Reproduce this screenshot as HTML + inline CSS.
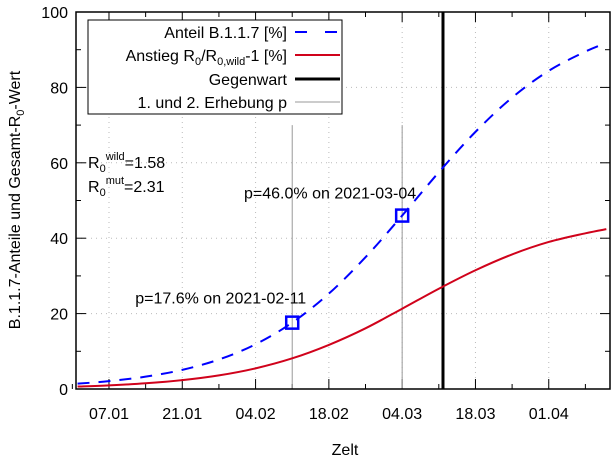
<!DOCTYPE html>
<html><head><meta charset="utf-8"><style>
body{margin:0;background:#fff}
svg{display:block;font-family:"Liberation Sans",sans-serif}
</style></head><body>
<svg id="c" width="615" height="459"></svg>
<script>
const days=[0,6,13,20,27,34,41,48,55,62,69,76,83,90,97,101];
const anteil=[1.41,2.08,3.27,5.08,7.82,11.86,17.6,25.3,34.95,46.0,57.5,68.2,77.3,84.4,89.5,91.8];
const anstieg=[0.65,0.96,1.51,2.35,3.61,5.48,8.13,11.7,16.1,21.3,26.6,31.5,35.7,39.0,41.3,42.4];
const xTickDays=[6,20,34,48,62,76,90];
const xTickLabels=["07.01","21.01","04.02","18.02","04.03","18.03","01.04"];
const yTicks=[0,20,40,60,80,100];
const surveyDays=[41,62];
const surveyValues=[17.6,46.0];
const surveyLabels=["p=17.6% on 2021-02-11","p=46.0% on 2021-03-04"];
const nowDay=69.8;

const NS="http://www.w3.org/2000/svg";
const svg=document.getElementById('c');
const L=76,R=610,T=12,B=389;
const labelDy=[-19,-17];
const x=d=>L+(d+0.3)/102*(R-L);
const y=v=>B-v/100*(B-T);
function mk(tag,attrs,parent){const e=document.createElementNS(NS,tag);for(const k in attrs)e.setAttribute(k,attrs[k]);(parent||svg).appendChild(e);return e;}
xTickDays.forEach(d=>{const g=mk('line',{x1:x(d),x2:x(d),y1:T,y2:B,stroke:'#bbb','stroke-dasharray':'1,4','stroke-width':1});

});
yTicks.forEach(v=>{const g=mk('line',{x1:L,x2:R,y1:y(v),y2:y(v),stroke:'#bbb','stroke-dasharray':'1,4','stroke-width':1});

});
xTickDays.forEach((d,i)=>{
 mk('line',{x1:x(d),x2:x(d),y1:B,y2:B-10,stroke:'#000'});mk('line',{x1:x(d),x2:x(d),y1:T,y2:T+10,stroke:'#000'});
 const m=d+7;if(x(m)<R){mk('line',{x1:x(m),x2:x(m),y1:B,y2:B-5,stroke:'#000'});mk('line',{x1:x(m),x2:x(m),y1:T,y2:T+5,stroke:'#000'});}
 const t=mk('text',{x:x(d),y:419,'text-anchor':'middle','font-size':16});t.textContent=xTickLabels[i];
 
 
});
mk('line',{x1:x(-1),x2:x(-1),y1:B,y2:B-5,stroke:'#000'});
yTicks.forEach(v=>{
 mk('line',{x1:L,x2:L+10,y1:y(v),y2:y(v),stroke:'#000'});mk('line',{x1:R,x2:R-10,y1:y(v),y2:y(v),stroke:'#000'});
 if(v<100){mk('line',{x1:L,x2:L+5,y1:y(v+10),y2:y(v+10),stroke:'#000'});mk('line',{x1:R,x2:R-5,y1:y(v+10),y2:y(v+10),stroke:'#000'});}
 const t=mk('text',{x:L-8,y:y(v)+6,'text-anchor':'end','font-size':16});t.textContent=v;
 
 
});
surveyDays.forEach(d=>{const l=mk('line',{x1:x(d),x2:x(d),y1:y(70),y2:B,stroke:'#999','stroke-width':1});

});
const nl=mk('line',{x1:x(nowDay),x2:x(nowDay),y1:T,y2:B,stroke:'#000','stroke-width':3});


function path(vals){const p=days.map((d,i)=>[x(d),y(vals[i])]);let s=`M${p[0][0]},${p[0][1]}`;
 for(let i=0;i<p.length-1;i++){const p0=p[Math.max(0,i-1)],p1=p[i],p2=p[i+1],p3=p[Math.min(p.length-1,i+2)];
 s+=` C${p1[0]+(p2[0]-p0[0])/6},${p1[1]+(p2[1]-p0[1])/6} ${p2[0]-(p3[0]-p1[0])/6},${p2[1]-(p3[1]-p1[1])/6} ${p2[0]},${p2[1]}`;}return s;}
const rp=mk('path',{d:path(anstieg),fill:'none',stroke:'#d0021b','stroke-width':2});


const bp=mk('path',{d:path(anteil),fill:'none',stroke:'#0000ff','stroke-width':2,'stroke-dasharray':'12,9'});


surveyDays.forEach((d,i)=>{
 const r=mk('rect',{x:x(d)-6,y:y(surveyValues[i])-6,width:12,height:12,fill:'none',stroke:'#0000ff','stroke-width':2.5});
 
 
 const t=mk('text',{x:x(d)+14,y:y(surveyValues[i])+labelDy[i],'text-anchor':'end','font-size':16});t.textContent=surveyLabels[i];
 
 
});
const fr=mk('rect',{x:L,y:T,width:R-L,height:B-T,fill:'none',stroke:'#000','stroke-width':1.5});


</script>
<svg width="615" height="459" style="position:absolute;left:0;top:0;font-family:'Liberation Sans',sans-serif">
 <g>
  <rect x="88" y="20" width="254" height="94" fill="#fff" stroke="#000" stroke-width="1"/>
  <text x="287" y="38" text-anchor="end" font-size="16">Anteil B.1.1.7 [%]</text>
  <line x1="295" x2="340" y1="32" y2="32" stroke="#00f" stroke-width="2" stroke-dasharray="12,18"/>
  <text x="287" y="61" text-anchor="end" font-size="16">Anstieg R<tspan font-size="11" dy="4">0</tspan><tspan dy="-4">/R</tspan><tspan font-size="11" dy="4">0,wild</tspan><tspan dy="-4">-1 [%]</tspan></text>
  <line x1="295" x2="340" y1="55" y2="55" stroke="#d0021b" stroke-width="2"/>
  <text x="287" y="85" text-anchor="end" font-size="16">Gegenwart</text>
  <line x1="295" x2="340" y1="79" y2="79" stroke="#000" stroke-width="3"/>
  <text x="287" y="108" text-anchor="end" font-size="16">1. und 2. Erhebung p</text>
  <line x1="295" x2="340" y1="102" y2="102" stroke="#999" stroke-width="1"/>
 </g>
 <text x="88" y="168" font-size="16">R<tspan font-size="11" dy="4">0</tspan><tspan font-size="11" dy="-12">wild</tspan><tspan dy="8">=1.58</tspan></text>
 <text x="88" y="192" font-size="16">R<tspan font-size="11" dy="4">0</tspan><tspan font-size="11" dy="-12">mut</tspan><tspan dy="8">=2.31</tspan></text>
 <text x="345" y="455" text-anchor="middle" font-size="16">Zelt</text>
 <text transform="translate(20,200) rotate(-90)" text-anchor="middle" font-size="16">B.1.1.7-Anteile und Gesamt-R<tspan font-size="11" dy="4">0</tspan><tspan dy="-4">-Wert</tspan></text>
</svg>
</body></html>
